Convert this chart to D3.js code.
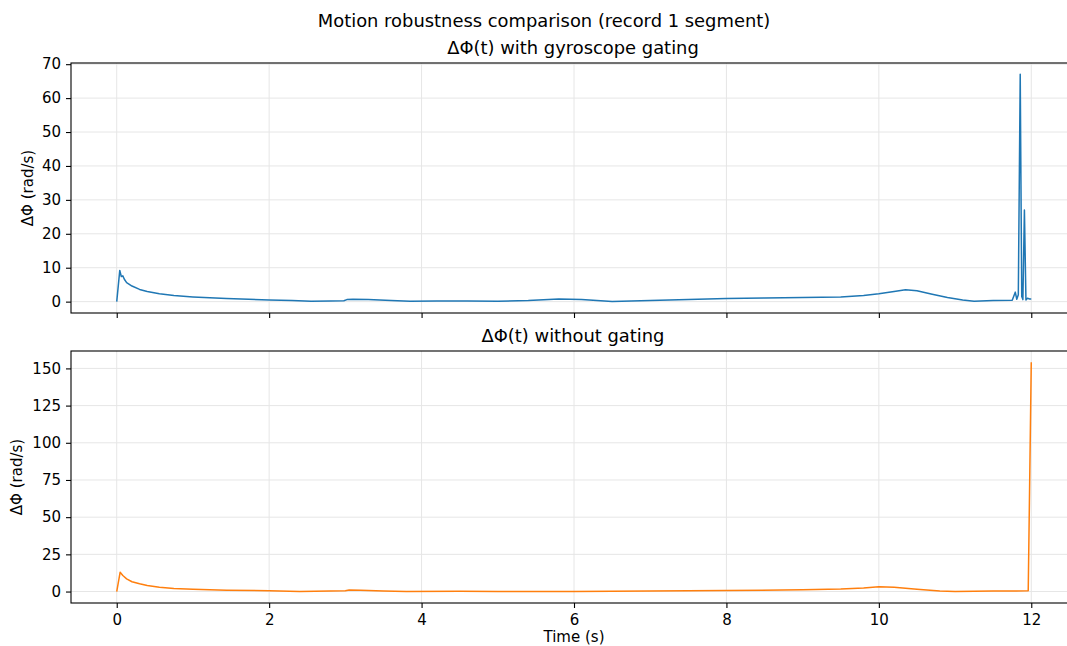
<!DOCTYPE html>
<head>
    <meta charset="utf-8">
    <title>Motion robustness comparison</title>
    <script src="https://cdn.jsdelivr.net/npm/d3@7"></script>
</head>
<style>
    body { margin: 0; background: white; }
    text { font-family: "DejaVu Sans", sans-serif; fill: black; }
    .grid line { stroke: #e6e6e6; stroke-width: 1; }
</style>
<body>
<svg id="chart" width="1067" height="646"></svg>
</body>
<script>
    // time (s) and dPhi (rad/s) for the gated signal
    var gatedTime = [0, 0.04, 0.06, 0.08, 0.1, 0.13, 0.2, 0.3, 0.4, 0.56, 0.75, 1.0, 1.44, 2.0, 2.3, 2.55, 2.8, 2.98, 3.02, 3.1, 3.3, 3.6, 3.85, 4.2, 4.6, 5.0, 5.4, 5.8, 6.1, 6.5, 7.0, 7.5, 8.0, 8.5, 9.0, 9.5, 9.8, 10.0, 10.2, 10.35, 10.5, 10.7, 10.9, 11.1, 11.25, 11.5, 11.75, 11.79, 11.81, 11.83, 11.855, 11.875, 11.89, 11.91, 11.93, 11.95, 11.98, 12.0]
    var gatedVals = [0, 9.2, 7.4, 7.6, 6.6, 5.6, 4.6, 3.6, 3.0, 2.3, 1.8, 1.4, 0.9, 0.5, 0.3, 0.1, 0.2, 0.25, 0.6, 0.7, 0.6, 0.3, 0.1, 0.2, 0.2, 0.1, 0.3, 0.8, 0.6, 0.05, 0.3, 0.6, 0.9, 1.1, 1.2, 1.4, 1.8, 2.3, 3.0, 3.5, 3.2, 2.2, 1.2, 0.5, 0.1, 0.3, 0.4, 2.8, 0.7, 2.0, 67, 1.5, 0.6, 27, 0.5, 1.0, 0.8, 0.8]

    // time (s) and dPhi (rad/s) without gating
    var rawTime = [0, 0.045, 0.08, 0.13, 0.2, 0.3, 0.4, 0.56, 0.75, 1.0, 1.44, 2.0, 2.4, 2.8, 3.0, 3.05, 3.2, 3.5, 3.8, 4.5, 5.0, 6.0, 7.0, 8.0, 9.0, 9.5, 9.8, 10.0, 10.2, 10.5, 10.8, 11.0, 11.5, 11.96, 12.0]
    var rawVals = [0, 13.0, 10.8, 8.5, 6.6, 5.2, 4.0, 2.9, 2.1, 1.5, 0.9, 0.5, 0.1, 0.4, 0.5, 1.0, 0.8, 0.3, 0.05, 0.2, 0.1, 0.05, 0.3, 0.7, 1.2, 1.7, 2.4, 3.2, 2.9, 1.6, 0.4, 0.05, 0.3, 0.5, 154.2]

    var xTicks = [0, 2, 4, 6, 8, 10, 12]
    var gatedTicks = [0, 10, 20, 30, 40, 50, 60, 70]
    var rawTicks = [0, 25, 50, 75, 100, 125, 150]

    var svg = d3.select("#chart")
    var left = 71, right = 1077

    var xScale = d3.scaleLinear().domain([-0.6, 12.6]).range([left, right])

    function drawPanel(top, bottom, yDomain, yTicks, times, vals, colour, title, showXLabels, labelX) {
        var yScale = d3.scaleLinear().domain(yDomain).range([bottom, top])
        var g = svg.append("g")

        // grid
        var grid = g.append("g").attr("class", "grid")
        grid.selectAll(".gx").data(xTicks).enter().append("line")
            .attr("x1", d => xScale(d)).attr("x2", d => xScale(d))
            .attr("y1", top).attr("y2", bottom)
        grid.selectAll(".gy").data(yTicks).enter().append("line")
            .attr("x1", left).attr("x2", right)
            .attr("y1", d => yScale(d)).attr("y2", d => yScale(d))

        // line
        var line = d3.line().x((d, i) => xScale(times[i])).y(d => yScale(d))
        g.append("path")
            .datum(vals)
            .attr("d", line)
            .attr("fill", "none")
            .attr("stroke", colour)
            .attr("stroke-width", 1.5)
            .attr("stroke-linejoin", "round")

        // axes
        var yAxis = d3.axisLeft(yScale).tickValues(yTicks).tickSize(5).tickPadding(5)
        var gy = g.append("g").attr("transform", "translate(" + left + ",0)").call(yAxis)
        var xAxis = d3.axisBottom(xScale).tickValues(xTicks).tickSize(5).tickPadding(6)
        if (!showXLabels) xAxis.tickFormat("")
        var gx = g.append("g").attr("transform", "translate(0," + bottom + ")").call(xAxis)
        for (var a of [gx, gy]) {
            a.select(".domain").remove()
            a.selectAll("line").attr("stroke", "black").attr("stroke-width", 1.1)
            a.selectAll("text").style("font-size", "15px")
        }

        // frame
        g.append("rect")
            .attr("x", left).attr("y", top)
            .attr("width", right - left).attr("height", bottom - top)
            .attr("fill", "none").attr("stroke", "black").attr("stroke-width", 1.1)

        g.append("text")
            .attr("x", 573).attr("y", top - 9)
            .attr("text-anchor", "middle")
            .style("font-size", "17.9px")
            .text(title)

        g.append("text")
            .attr("transform", "translate(" + labelX + "," + ((top + bottom) / 2) + ") rotate(-90)")
            .attr("text-anchor", "middle")
            .attr("dy", "0.35em")
            .style("font-size", "15px")
            .text("ΔΦ (rad/s)")
    }

    drawPanel(63, 313, [-3.35, 70.35], gatedTicks, gatedTime, gatedVals, "#1f77b4", "ΔΦ(t) with gyroscope gating", false, 28)
    drawPanel(351, 603, [-7.7, 161.7], rawTicks, rawTime, rawVals, "#ff7f0e", "ΔΦ(t) without gating", true, 17)

    svg.append("text")
        .attr("x", 544).attr("y", 27)
        .attr("text-anchor", "middle")
        .style("font-size", "17.9px")
        .text("Motion robustness comparison (record 1 segment)")

    svg.append("text")
        .attr("x", 574).attr("y", 642)
        .attr("text-anchor", "middle")
        .style("font-size", "15px")
        .text("Time (s)")
</script>
</html>
